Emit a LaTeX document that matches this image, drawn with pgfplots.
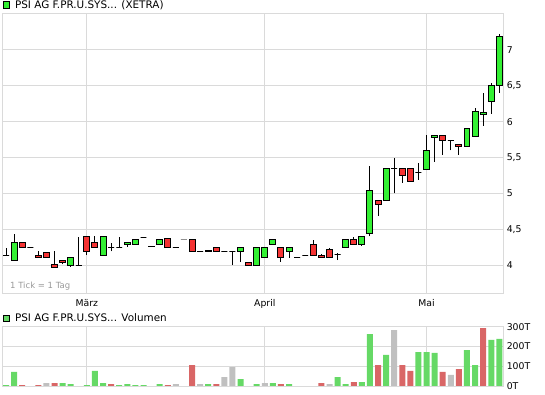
\documentclass[border=0pt]{standalone}
\usepackage{fontspec}
\setmainfont{DejaVu Sans}
\usepackage{pgfplots}
\usepackage{pgfplotstable}
\pgfplotsset{compat=1.18}
\definecolor{cup}{RGB}{51,240,51}
\definecolor{cdn}{RGB}{245,51,51}
\definecolor{vup}{RGB}{102,217,102}
\definecolor{vdn}{RGB}{217,102,102}
\definecolor{vnc}{RGB}{192,192,192}
\definecolor{gridc}{RGB}{218,218,218}

\pgfplotstableread{
k o h l c
0 4.14 4.24 4.14 4.14
1 4.07 4.44 4.07 4.31
2 4.31 4.31 4.25 4.25
3 4.25 4.25 4.25 4.25
4 4.14 4.20 4.10 4.10
5 4.18 4.18 4.10 4.10
6 4.01 4.20 3.97 3.97
7 4.06 4.06 4.01 4.03
8 4.00 4.10 3.98 4.10
9 4.00 4.39 4.00 4.00
10 4.40 4.40 4.14 4.19
11 4.32 4.40 4.25 4.25
12 4.14 4.40 4.14 4.40
13 4.25 4.31 4.19 4.25
14 4.25 4.39 4.25 4.25
15 4.29 4.32 4.25 4.32
16 4.29 4.35 4.29 4.35
17 4.39 4.39 4.39 4.39
18 4.265 4.265 4.255 4.255
19 4.29 4.35 4.29 4.35
20 4.375 4.375 4.25 4.25
21 4.25 4.25 4.25 4.25
22 4.35 4.35 4.35 4.35
23 4.35 4.37 4.19 4.19
24 4.19 4.19 4.19 4.19
25 4.205 4.205 4.195 4.195
26 4.25 4.25 4.19 4.19
27 4.19 4.19 4.19 4.19
28 4.19 4.19 4.00 4.19
29 4.19 4.25 4.04 4.25
30 4.04 4.04 4.00 4.00
31 4.00 4.25 4.00 4.25
32 4.10 4.25 4.10 4.25
33 4.29 4.35 4.29 4.35
34 4.25 4.25 4.05 4.10
35 4.19 4.25 4.10 4.25
36 4.11 4.11 4.11 4.11
37 4.14 4.14 4.14 4.14
38 4.29 4.35 4.14 4.14
39 4.14 4.15 4.10 4.10
40 4.22 4.24 4.10 4.10
41 4.15 4.17 4.07 4.15
42 4.25 4.35 4.25 4.35
43 4.35 4.39 4.29 4.29
44 4.29 4.40 4.27 4.40
45 4.44 5.38 4.40 5.04
46 4.90 4.90 4.69 4.85
47 4.90 5.34 4.90 5.34
48 5.34 5.49 5.00 5.34
49 5.34 5.34 5.15 5.25
50 5.34 5.36 5.17 5.17
51 5.29 5.43 5.19 5.29
52 5.33 5.82 5.33 5.60
53 5.78 5.81 5.44 5.81
54 5.81 5.81 5.54 5.74
55 5.74 5.74 5.60 5.74
56 5.68 5.69 5.54 5.65
57 5.65 5.91 5.65 5.90
58 5.79 6.19 5.79 6.14
59 6.10 6.40 5.94 6.125
60 6.28 6.54 6.11 6.50
61 6.50 7.22 6.40 7.19
}\ohlc

\pgfplotstableread{
k g r n
0 5 0 0
1 71 0 0
2 0 5 0
3 0 0 0
4 0 5 0
5 0 0 15
6 0 15 0
7 15 0 0
8 10 0 0
9 0 0 0
10 5 0 0
11 76 0 0
12 15 0 0
13 0 10 0
14 5 0 0
15 10 0 0
16 5 0 0
17 5 0 0
18 0 0 0
19 10 0 0
20 0 5 0
21 0 0 10
22 0 0 0
23 0 106 0
24 0 0 10
25 10 0 0
26 0 10 0
27 0 0 45
28 0 0 96
29 35 0 0
30 0 0 0
31 10 0 0
32 0 0 15
33 15 0 0
34 0 10 0
35 10 0 0
36 0 0 0
37 0 0 0
38 0 0 0
39 0 15 0
40 0 0 10
41 45 0 0
42 10 0 0
43 0 20 0
44 20 0 0
45 263 0 0
46 0 106 0
47 157 0 0
48 0 0 283
49 0 106 0
50 0 76 0
51 172 0 0
52 172 0 0
53 167 0 0
54 0 71 0
55 0 0 56
56 0 86 0
57 182 0 0
58 106 0 0
59 0 293 0
60 233 0 0
61 238 0 0
}\vol

\pgfplotsset{
  chartbase/.style={
    scale only axis,
    width=501bp,
    xmin=-0.46, xmax=61.49,
    xtick={10,32,52},
    ymajorgrids, xmajorgrids,
    grid style={gridc, line width=1bp},
    axis line style={gridc, line width=1bp},
    major tick length=0pt,
    tick style={draw=none},
    yticklabel pos=right,
    ticklabel style={font=\fontsize{9.3bp}{11bp}\selectfont, text=black},
    /pgf/number format/assume math mode=true,
    legend image code/.code={\draw[#1, line width=1bp] (0bp,-3.15bp) rectangle (6.3bp,3.15bp);},
    legend style={at={(0,1)}, anchor=south west, draw=none, fill=none,
      inner sep=0pt, outer sep=0pt, font=\fontsize{10.4bp}{12bp}\selectfont,
      legend cell align=left,
      /tikz/every odd column/.append style={column sep=3bp}},
  }
}

\begin{document}
\begin{tikzpicture}
\useasboundingbox (0bp,0bp) rectangle (545bp,395bp);
\begin{axis}[chartbase, name=main, anchor=south west, at={(2.3bp,101.7bp)}, height=280bp,
  ymin=3.607, ymax=7.51,
  xticklabels={März,April,Mai},
  xticklabel style={yshift=-3bp},
  ytick={4,4.5,5,5.5,6,6.5,7},
  yticklabel style={/pgf/number format/.cd, use comma, fixed},
  legend style={xshift=0.5bp, yshift=1.5bp},
]
\pgfplotsinvokeforeach{0,...,61}{
  \pgfplotstablegetelem{#1}{o}\of\ohlc \edef\vo{\pgfplotsretval}
  \pgfplotstablegetelem{#1}{h}\of\ohlc \edef\vh{\pgfplotsretval}
  \pgfplotstablegetelem{#1}{l}\of\ohlc \edef\vl{\pgfplotsretval}
  \pgfplotstablegetelem{#1}{c}\of\ohlc \edef\vc{\pgfplotsretval}
  \pgfmathsetmacro\xa{#1-0.37}
  \pgfmathsetmacro\xb{#1+0.37}
  \ifdim\vc pt>\vo pt \def\col{cup}\else\ifdim\vc pt<\vo pt \def\col{cdn}\else\def\col{black}\fi\fi
  \edef\temp{\noexpand\addplot[forget plot, black, line width=1bp] coordinates {(#1,\vl) (#1,\vh)};
    \noexpand\addplot[forget plot, draw=black, fill=\col, line width=1bp] coordinates {(\xa,\vo) (\xb,\vo) (\xb,\vc) (\xa,\vc)} -- cycle;}
  \temp
}
\addlegendimage{draw=black, fill=cup}
\addlegendentry{PSI AG F.PR.U.SYS... (XETRA)}
\node[anchor=west, text=black!40, font=\fontsize{8.5bp}{10bp}\selectfont, inner sep=0pt]
  at (rel axis cs:0,0) [xshift=7.7bp, yshift=7bp] {1 Tick = 1 Tag};
\end{axis}

\begin{axis}[chartbase, name=vol, anchor=south west, at={(2.3bp,9bp)}, height=59.3bp,
  ymin=0, ymax=300,
  xticklabels={},
  ytick={0,100,200,300},
  yticklabels={0T,100T,200T,300T},
  legend style={xshift=0.5bp, yshift=1.5bp},
]
\addplot[forget plot, ybar, bar width=6bp, bar shift=0pt, fill=vup, draw=none] table[x=k,y=g]{\vol};
\addplot[forget plot, ybar, bar width=6bp, bar shift=0pt, fill=vdn, draw=none] table[x=k,y=r]{\vol};
\addplot[forget plot, ybar, bar width=6bp, bar shift=0pt, fill=vnc, draw=none] table[x=k,y=n]{\vol};
\addlegendimage{draw=black, fill=vup}
\addlegendentry{PSI AG F.PR.U.SYS... Volumen}
\end{axis}
\end{tikzpicture}
\end{document}
